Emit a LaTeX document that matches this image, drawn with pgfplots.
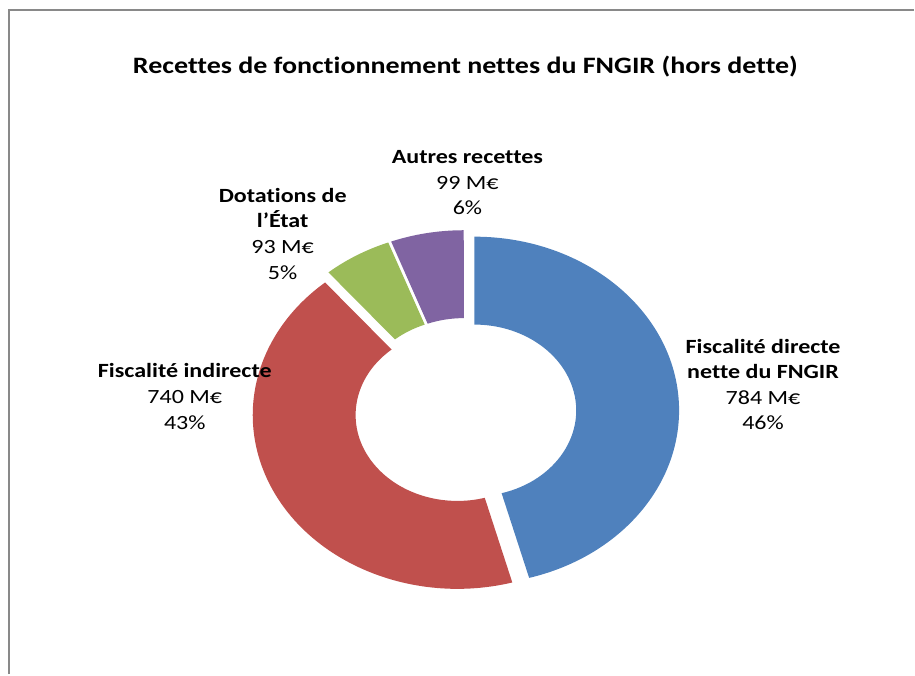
\documentclass[border=0pt]{standalone}
\usepackage{fontspec}
\setmainfont{Carlito}[FakeStretch=1.19, Ligatures=NoCommon]
\usepackage{pgfplots}
\pgfplotsset{compat=1.18}
\definecolor{cBlue}{HTML}{4F81BD}
\definecolor{cRed}{HTML}{C0504D}
\definecolor{cGreen}{HTML}{9BBB59}
\definecolor{cPurple}{HTML}{8064A2}
\definecolor{frame}{HTML}{898989}

% values (M EUR), clockwise from 12 o'clock
\def\vA{784}\def\vB{740}\def\vC{93}\def\vD{99}
% donut geometry (pixel units of the original)
\def\cx{466}\def\cy{263}
\def\Rx{205}\def\Ry{174}\def\rx{102}\def\ry{86}
\def\ex{9}\def\sq{0.845}

\newcommand{\donutwedge}[3]{%
  \pgfmathsetmacro\midang{(#1+#2)/2}%
  \pgfmathsetmacro\ox{\cx+\ex*cos(\midang)}%
  \pgfmathsetmacro\oy{\cy+\sq*\ex*sin(\midang)}%
  \edef\tmp{\noexpand\fill[#3] (axis cs:{\ox+\Rx*cos(#1)},{\oy+\Ry*sin(#1)})
    arc[start angle=#1, end angle=#2, x radius=\Rx, y radius=\Ry]
    -- (axis cs:{\ox+\rx*cos(#2)},{\oy+\ry*sin(#2)})
    arc[start angle=#2, end angle=#1, x radius=\rx, y radius=\ry] -- cycle;}%
  \tmp}

\begin{document}
\begin{tikzpicture}
\pgfmathsetmacro\tot{\vA+\vB+\vC+\vD}
\pgfmathsetmacro\aA{90}
\pgfmathsetmacro\aB{\aA-\vA/\tot*360}
\pgfmathsetmacro\aC{\aB-\vB/\tot*360}
\pgfmathsetmacro\aD{\aC-\vC/\tot*360}
\pgfmathsetmacro\aE{\aD-\vD/\tot*360}
\begin{axis}[
    x=0.02cm, y=0.02cm,
    xmin=0, xmax=915, ymin=0, ymax=675,
    hide axis, clip=false,
]
\path (axis cs:0,0) rectangle (axis cs:915,675);
\donutwedge{\aA}{\aB}{cBlue}
\donutwedge{\aB}{\aC}{cRed}
\donutwedge{\aC}{\aD}{cGreen}
\donutwedge{\aD}{\aE}{cPurple}

\draw[frame, line width=1.3pt] (axis cs:9,0) -- (axis cs:9,665) -- (axis cs:915,665);

\node[font=\fontsize{13.4}{16}\selectfont\bfseries] at (axis cs:466,608) {Recettes de fonctionnement nettes du FNGIR (hors dette)};

\node[align=center, font=\fontsize{11.5}{14.6}\selectfont] at (axis cs:468,492)
  {\textbf{Autres recettes}\\99 M€\\6\%};
\node[align=center, font=\fontsize{11.5}{14.6}\selectfont] at (axis cs:283,441)
  {\textbf{Dotations de}\\\textbf{l\symbol{39}État}\\93 M€\\5\%};
\node[align=center, font=\fontsize{11.5}{14.6}\selectfont] at (axis cs:185,278)
  {\textbf{Fiscalité indirecte}\\740 M€\\43\%};
\node[align=center, font=\fontsize{11.5}{14.6}\selectfont] at (axis cs:764,290)
  {\textbf{Fiscalité directe}\\\textbf{nette du FNGIR}\\784 M€\\46\%};
\end{axis}
\end{tikzpicture}
\end{document}
